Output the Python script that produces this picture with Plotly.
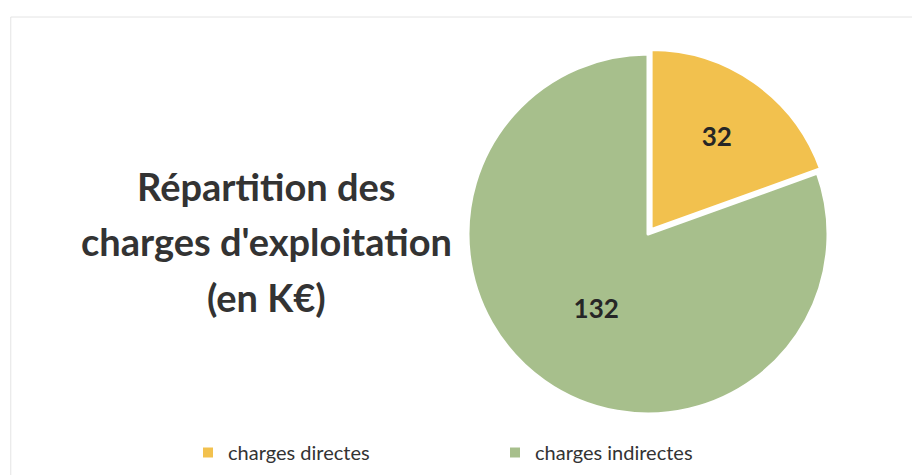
import plotly.graph_objects as go

categories = ["charges directes", "charges indirectes"]
values = [32, 132]
colors = ["#F2C14E", "#A7BF8C"]
title_lines = ["Répartition des", "charges d'exploitation", "(en K€)"]

W, H = 920, 475
cx, cy, r = 640, 226, 180
pull = 0.03
half = r * (1 + pull)

fig = go.Figure()
fig.add_trace(go.Pie(
    labels=categories,
    values=values,
    marker=dict(colors=colors, line=dict(color="white", width=3)),
    sort=False,
    direction="clockwise",
    rotation=0,
    pull=[pull, 0],
    textinfo="value",
    textposition="inside",
    insidetextorientation="horizontal",
    textfont=dict(family="Lato", size=26, color="#262626", weight="bold"),
    domain=dict(x=[(cx - half) / W, (cx + half) / W],
                y=[1 - (cy + half) / H, 1 - (cy - half) / H]),
    hoverinfo="label+value",
))

line_y = [178, 233, 289]
for txt, yy in zip(title_lines, line_y):
    fig.add_annotation(
        x=258 / W, y=1 - yy / H, xref="paper", yref="paper",
        xanchor="center", yanchor="middle",
        text=txt, showarrow=False,
        font=dict(family="Lato", size=38, color="#333333", weight="bold"),
    )

fig.update_layout(
    width=W, height=H,
    margin=dict(l=0, r=0, t=0, b=0),
    paper_bgcolor="white",
    plot_bgcolor="white",
    showlegend=True,
    legend=dict(
        orientation="h", x=180 / W, y=1 - 425 / H, xanchor="left", yanchor="top",
        entrywidth=262, entrywidthmode="pixels",
        font=dict(family="Lato", size=20, color="#333333"),
        itemsizing="constant",
    ),
    shapes=[dict(type="rect", xref="paper", yref="paper", x0=0.003, x1=0.997, y0=0.003, y1=1 - 9 / H,
                 line=dict(color="#E4E4E4", width=1))],
)

fig.write_html("out.html")
